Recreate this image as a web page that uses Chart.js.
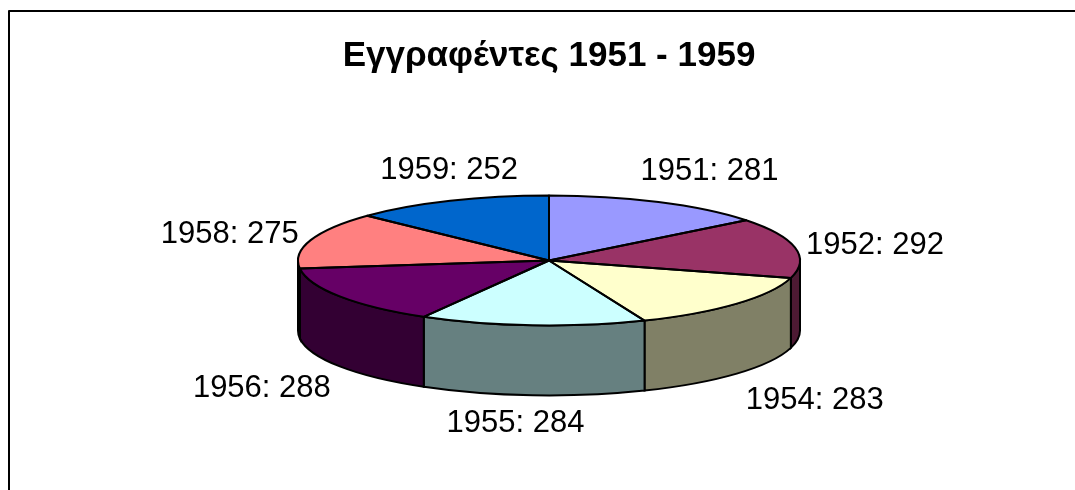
<!DOCTYPE html>
<html>
<head>
<meta charset="utf-8">
<style>
  html, body { margin: 0; padding: 0; background: #fff; overflow: hidden; }
  #wrap { position: relative; width: 1075px; height: 490px; }
</style>
<script src="https://cdn.jsdelivr.net/npm/chart.js@4"></script>
</head>
<body>
<div id="wrap"><canvas id="c" width="1075" height="490"></canvas></div>
<script>
const titleText = 'Εγγραφέντες 1951 - 1959';
const years = ['1951', '1952', '1954', '1955', '1956', '1958', '1959'];
const counts = [281, 292, 283, 284, 288, 275, 252];
const topColors = ['#9999FF', '#993366', '#FFFFCC', '#CCFFFF', '#660066', '#FF8080', '#0066CC'];
const wallColors = ['#4D4D80', '#4D1A33', '#808066', '#668080', '#330033', '#804040', '#003366'];
// label nudges from the point on the rim, in px
const labelNudgeX = [51, 80, 78, -17, -78, -81, -1];
const labelNudgeY = [-31, -2, 97, 98, 92, -6, -30];

const SQUASH = 65 / 251;
const DEPTH = 70;

const pie3d = {
  id: 'pie3d',
  beforeDatasetDraw(chart) {
    const ctx = chart.ctx;
    const arcs = chart.getDatasetMeta(0).data;
    const cx = arcs[0].x, cy = arcs[0].y, r = arcs[0].outerRadius;
    // front walls first, only the part of each slice below the centre line
    arcs.forEach((arc, i) => {
      const a = Math.max(arc.startAngle, 0);
      const b = Math.min(arc.endAngle, Math.PI);
      if (b <= a) return;
      ctx.beginPath();
      ctx.ellipse(cx, cy, r, r * SQUASH, 0, a, b);
      ctx.ellipse(cx, cy + DEPTH, r, r * SQUASH, 0, b, a, true);
      ctx.closePath();
      ctx.fillStyle = wallColors[i];
      ctx.fill();
      ctx.lineWidth = 2;
      ctx.strokeStyle = '#000';
      ctx.stroke();
    });
    // squash the library's own arcs into the top face
    ctx.save();
    ctx.translate(cx, cy);
    ctx.scale(1, SQUASH);
    ctx.translate(-cx, -cy);
  },
  afterDatasetDraw(chart) {
    const ctx = chart.ctx;
    ctx.restore();
    const arcs = chart.getDatasetMeta(0).data;
    const cx = arcs[0].x, cy = arcs[0].y, r = arcs[0].outerRadius;
    ctx.lineWidth = 2;
    ctx.strokeStyle = '#000';
    ctx.lineJoin = 'round';
    arcs.forEach(arc => {
      ctx.beginPath();
      ctx.moveTo(cx, cy);
      ctx.ellipse(cx, cy, r, r * SQUASH, 0, arc.startAngle, arc.endAngle);
      ctx.closePath();
      ctx.stroke();
    });
    // labels
    ctx.font = '31px "Liberation Sans", Arial, sans-serif';
    ctx.fillStyle = '#000';
    ctx.textAlign = 'center';
    ctx.textBaseline = 'middle';
    arcs.forEach((arc, i) => {
      const mid = (arc.startAngle + arc.endAngle) / 2;
      const x = cx + r * Math.cos(mid) + labelNudgeX[i];
      const y = cy + r * SQUASH * Math.sin(mid) + labelNudgeY[i];
      ctx.fillText(years[i] + ': ' + counts[i], x, y);
    });
  },
  afterDraw(chart) {
    // frame: runs off the right and bottom of the picture
    const ctx = chart.ctx;
    ctx.save();
    ctx.strokeStyle = '#000';
    ctx.lineWidth = 2;
    ctx.strokeRect(9, 11, 1080, 490);
    ctx.restore();
  }
};

new Chart(document.getElementById('c'), {
  type: 'pie',
  data: {
    labels: years,
    datasets: [{
      data: counts,
      backgroundColor: topColors,
      borderWidth: 0
    }]
  },
  options: {
    responsive: false,
    animation: false,
    radius: 251,
    layout: { padding: { left: 23, right: 0, top: 0, bottom: 46 } },
    plugins: {
      legend: { display: false },
      tooltip: { enabled: false },
      title: {
        display: true,
        text: titleText,
        color: '#000',
        font: { family: '"Liberation Sans", Arial, sans-serif', size: 35, weight: 'bold' },
        padding: { top: 35, bottom: 0 }
      }
    }
  },
  plugins: [pie3d]
});
</script>
</body>
</html>
